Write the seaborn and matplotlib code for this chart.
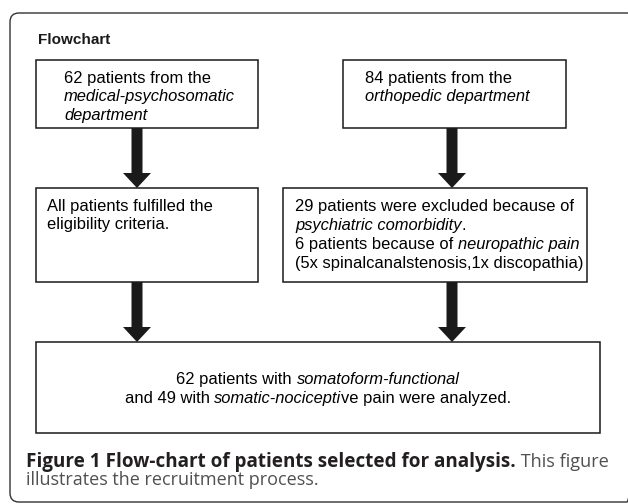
import matplotlib
matplotlib.use("Agg")
import matplotlib.pyplot as plt
from matplotlib.patches import Rectangle, FancyBboxPatch, FancyArrow
import seaborn as sns

# ---- data (patient counts and labels) ----
n_psychosomatic = 62
n_orthopedic = 84
n_excl_psychiatric = 29
n_excl_neuropathic = 6
n_spinal = 5
n_disco = 1
n_somatoform = 62
n_nociceptive = 49

box_top_left = [[(f"{n_psychosomatic} patients from the", "normal")],
                [("medical-psychosomatic", "italic")],
                [("department", "italic")]]
box_top_right = [[(f"{n_orthopedic} patients from the", "normal")],
                 [("orthopedic department", "italic")]]
box_mid_left = [[("All patients fulfilled the", "normal")],
                [("eligibility criteria.", "normal")]]
box_mid_right = [[(f"{n_excl_psychiatric} patients were excluded because of", "normal")],
                 [("psychiatric comorbidity", "italic"), (".", "normal")],
                 [(f"{n_excl_neuropathic} patients because of ", "normal"), ("neuropathic pain", "italic")],
                 [(f"({n_spinal}x spinalcanalstenosis,{n_disco}x discopathia)", "normal")]]
box_bottom = [[(f"{n_somatoform} patients with ", "normal"), ("somatoform-functional", "italic")],
              [(f"and {n_nociceptive} with ", "normal"), ("somatic-nocicepti", "italic"), ("ve pain were analyzed.", "normal")]]
title_text = "Flowchart"
caption_bold = "Figure 1 Flow-chart of patients selected for analysis."
caption_rest1 = " This figure"
caption_line2 = "illustrates the recruitment process."

sns.set_theme(style="white")
plt.rcParams['font.family'] = ['Liberation Sans', 'DejaVu Sans']

W, H = 628, 504
fig = plt.figure(figsize=(W / 100, H / 100), dpi=100)
ax = fig.add_axes([0, 0, 1, 1])
ax.set_xlim(0, W)
ax.set_ylim(H, 0)
ax.axis("off")
renderer = fig.canvas.get_renderer()

FS = 11.9
BOX_LW = 1.1


def advance(s, **kw):
    t1 = ax.text(0, 0, s + "|", **kw)
    t2 = ax.text(0, 0, "|", **kw)
    w = t1.get_window_extent(renderer).width - t2.get_window_extent(renderer).width
    t1.remove(); t2.remove()
    return w


def draw_line(x, y, segs, size=FS, ha="left", family="Liberation Sans", color="black"):
    items = []
    for seg in segs:
        text, style = seg[0], seg[1]
        weight = seg[2] if len(seg) > 2 else "normal"
        col = seg[3] if len(seg) > 3 else color
        sz = seg[4] if len(seg) > 4 else size
        kw = dict(fontsize=sz, fontstyle=style, fontweight=weight, family=family)
        items.append((text, kw, col, advance(text, **kw)))
    total = sum(i[3] for i in items)
    cx = x - total / 2 if ha == "center" else x
    for text, kw, col, w in items:
        ax.text(cx, y, text, va="baseline", ha="left", color=col, **kw)
        cx += w


def box(x0, y0, x1, y1):
    ax.add_patch(Rectangle((x0, y0), x1 - x0, y1 - y0, fill=False,
                           edgecolor="#1a1a1a", lw=BOX_LW))


def arrow(x, y0, y1):
    ax.add_patch(FancyArrow(x, y0, 0, y1 - y0, width=11, head_width=28,
                            head_length=15, length_includes_head=True,
                            color="#1a1a1a", lw=0))


# outer rounded frame
ax.add_patch(FancyBboxPatch((10, 13), 626, 489,
                            boxstyle="round,pad=0,rounding_size=9",
                            fill=False, edgecolor="#333333", lw=1.0, clip_on=True))

ax.text(38, 44, title_text, fontsize=11, fontweight="bold", va="baseline", color="#1a1a1a")

# boxes
box(36, 60, 258, 128)
box(343, 60, 566, 128)
box(36, 188, 258, 282)
box(283, 188, 587, 282)
box(36, 342, 600, 433)

# arrows
arrow(137, 128, 188)
arrow(452, 128, 188)
arrow(137, 282, 342)
arrow(452, 282, 342)

for segs, yb in zip(box_top_left, [83, 101.5, 120]):
    draw_line(64, yb, segs)
for segs, yb in zip(box_top_right, [83, 101.5]):
    draw_line(365, yb, segs)
for segs, yb in zip(box_mid_left, [211, 229.5]):
    draw_line(47, yb, segs)
for segs, yb in zip(box_mid_right, [211, 230, 249, 268]):
    draw_line(295, yb, segs)
for segs, yb in zip(box_bottom, [384, 403]):
    draw_line(318, yb, segs, ha="center")

# caption
CAP_FS = 13
cap_family = "Open Sans"
draw_line(26, 467, [(caption_bold, "normal", "bold", "#231f20", 13.6),
                    (caption_rest1, "normal", "normal", "#505050", 13.1)],
          size=CAP_FS, family=cap_family)
draw_line(26, 485, [(caption_line2, "normal", "normal", "#505050")],
          size=CAP_FS, family=cap_family)

fig.savefig("out.png", dpi=100, facecolor="white")
